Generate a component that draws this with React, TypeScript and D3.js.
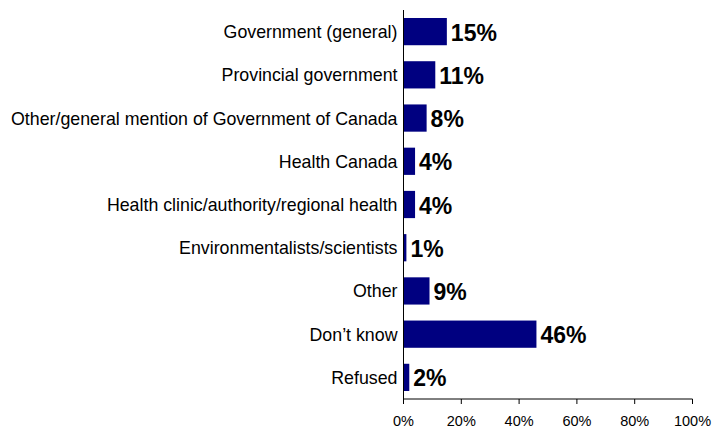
import React from "react";
import * as d3 from "d3";

const categories = [
  "Government (general)",
  "Provincial government",
  "Other/general mention of Government of Canada",
  "Health Canada",
  "Health clinic/authority/regional health",
  "Environmentalists/scientists",
  "Other",
  "Don\u2019t know",
  "Refused",
];
const values = [15, 11, 8, 4, 4, 1, 9, 46, 2];
const ticks = [0, 20, 40, 60, 80, 100];

const W = 715;
const H = 428;
const left = 403.5;
const right = 692.5;
const top = 10;
const bottom = 399;

export default function App() {
  const x = d3.scaleLinear().domain([0, 100]).range([left, right]);
  const y = d3
    .scaleBand<string>()
    .domain(categories)
    .range([top, bottom])
    .paddingInner(0.37)
    .paddingOuter(0.185);
  const bw = y.bandwidth();
  return (
    <svg
      width={W}
      height={H}
      style={{ position: "absolute", left: 0, top: 0, background: "#fff" }}
      fontFamily="Arial, 'Liberation Sans', Helvetica, sans-serif"
    >
      {categories.map((c, i) => {
        const yc = (y(c) as number) + bw / 2;
        return (
          <g key={c}>
            <rect
              x={x(0)}
              y={y(c)}
              width={x(values[i]) - x(0)}
              height={bw}
              fill="#000080"
            />
            <text
              x={left - 6}
              y={yc + 6.5}
              textAnchor="end"
              fontSize={17.8}
              fill="#000"
            >
              {c}
            </text>
            <text
              x={x(values[i]) + 4}
              y={yc + 9}
              fontSize={23}
              fontWeight="bold"
              fill="#000"
            >
              {values[i] + "%"}
            </text>
          </g>
        );
      })}
      <line x1={left} x2={left} y1={top} y2={bottom} stroke="#000" strokeWidth={1} />
      <line x1={left} x2={right} y1={bottom} y2={bottom} stroke="#000" strokeWidth={1} />
      {ticks.map((t) => (
        <g key={t}>
          <line x1={x(t)} x2={x(t)} y1={bottom} y2={bottom + 5} stroke="#000" strokeWidth={1} />
          <text x={x(t)} y={426} textAnchor="middle" fontSize={14.5} fill="#000">
            {t + "%"}
          </text>
        </g>
      ))}
    </svg>
  );
}
